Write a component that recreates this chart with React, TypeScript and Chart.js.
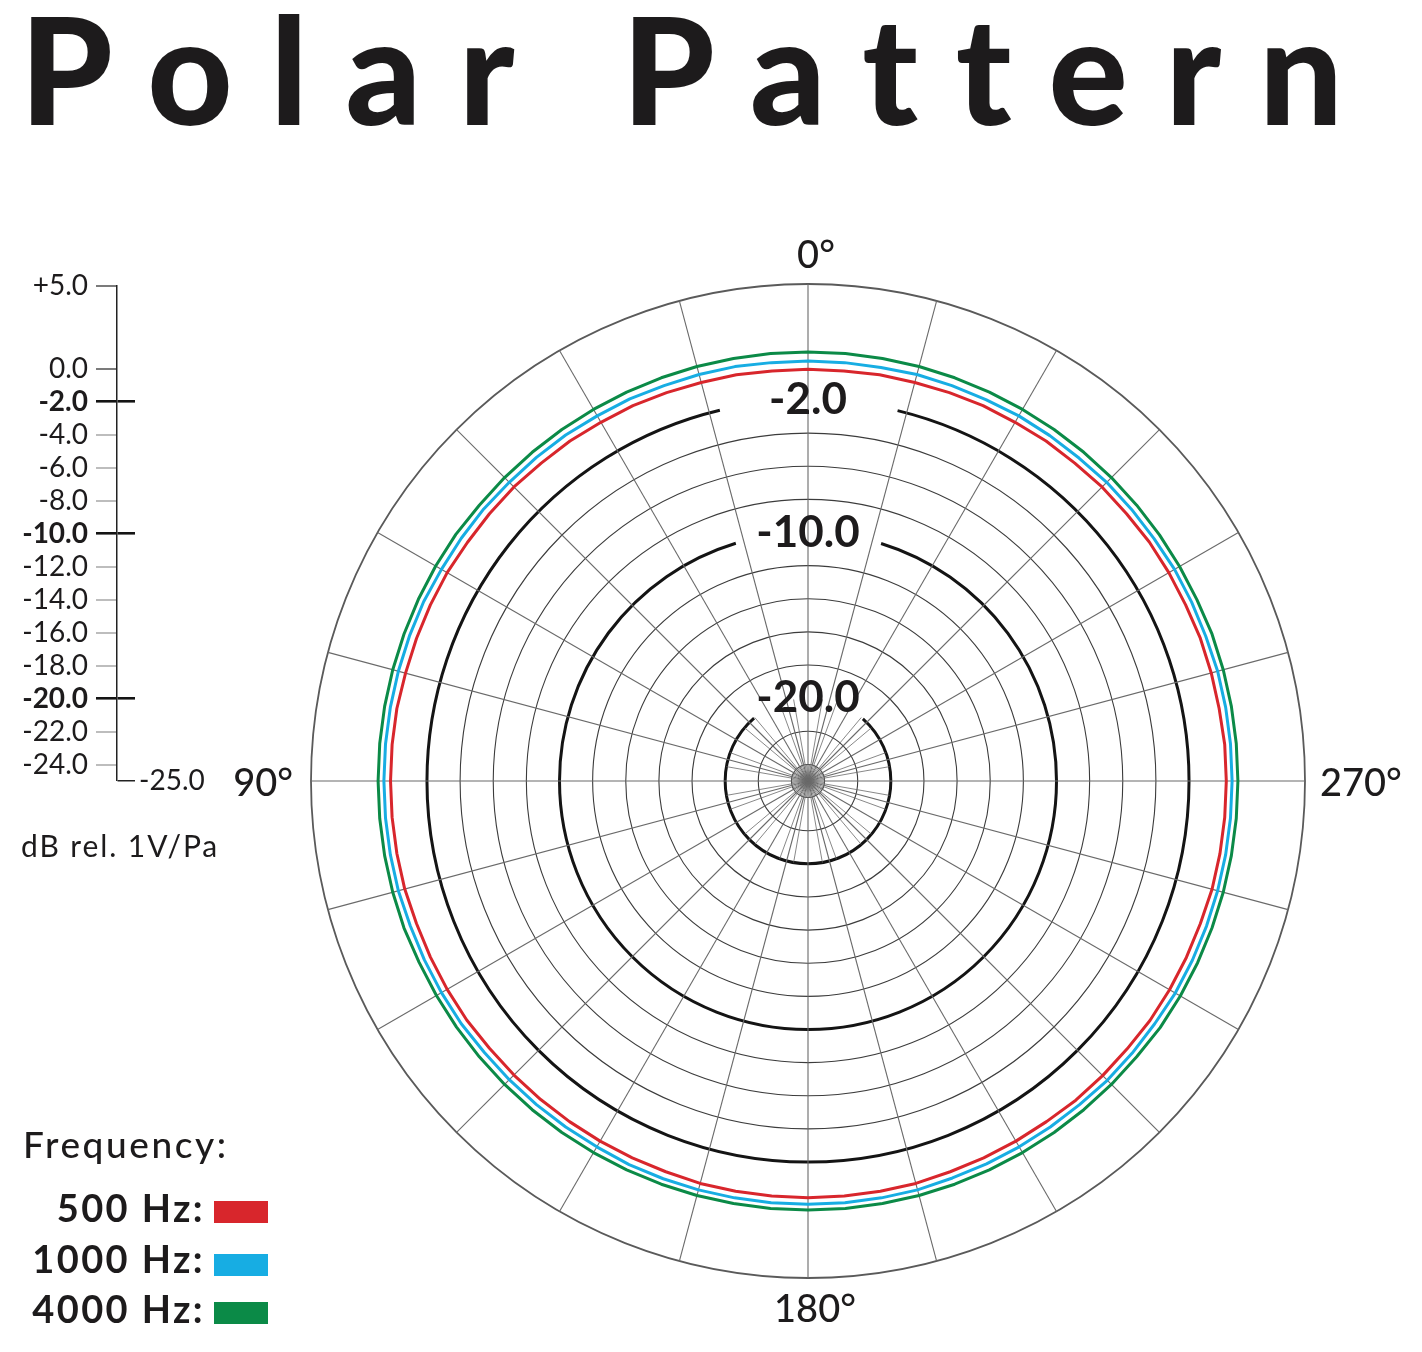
import React, { useEffect, useRef } from 'react';
import { Chart, registerables } from 'chart.js';

Chart.register(...registerables);

const FONT = 'Lato, "Open Sans", "Noto Sans", sans-serif';
const INK = '#1d1b1c';

// ---- data ----
const ANGLE_STEP = 5;
const ANGLES_DEG = Array.from({ length: 72 }, (_, k) => k * ANGLE_STEP); // 0..355 (category axis)
const SERIES_NAMES = ['500 Hz', '1000 Hz', '4000 Hz'];
const SERIES_COLORS = ['#d8262c', '#17ade3', '#0b8a47'];

// dB values at 0°, 5°, 10° ... 355° (counter-clockwise from top)
const DB_500HZ = [
  -0.15, -0.15, -0.1, -0.1, -0.05, 0.0, 0.0, 0.05, 0.05, 0.1, 0.1, 0.1, 0.15, 0.15, 0.15, 0.15, 0.2, 0.2,
  0.2, 0.2, 0.2, 0.2, 0.15, 0.15, 0.15, 0.15, 0.1, 0.1, 0.1, 0.1, 0.1, 0.1, 0.1, 0.15, 0.15, 0.15,
  0.15, 0.15, 0.15, 0.15, 0.1, 0.1, 0.1, 0.1, 0.15, 0.15, 0.15, 0.2, 0.2, 0.2, 0.2, 0.25, 0.25, 0.25,
  0.25, 0.25, 0.2, 0.2, 0.2, 0.15, 0.15, 0.15, 0.1, 0.1, 0.05, 0.05, 0.0, 0.0, -0.05, -0.1, -0.1, -0.15,
];
const DB_1000HZ = [
  0.35, 0.35, 0.4, 0.4, 0.4, 0.45, 0.45, 0.5, 0.5, 0.5, 0.55, 0.55, 0.55, 0.6, 0.6, 0.6, 0.6, 0.6,
  0.6, 0.6, 0.6, 0.6, 0.55, 0.55, 0.55, 0.55, 0.5, 0.5, 0.5, 0.5, 0.5, 0.55, 0.55, 0.55, 0.55, 0.55,
  0.55, 0.55, 0.55, 0.55, 0.5, 0.5, 0.5, 0.5, 0.5, 0.55, 0.55, 0.55, 0.6, 0.6, 0.6, 0.6, 0.6, 0.6,
  0.6, 0.6, 0.6, 0.6, 0.55, 0.55, 0.55, 0.5, 0.5, 0.5, 0.45, 0.45, 0.45, 0.4, 0.4, 0.4, 0.35, 0.35,
];
const DB_4000HZ = [
  0.9, 0.9, 0.9, 0.9, 0.9, 0.9, 0.9, 0.9, 0.9, 0.9, 0.9, 0.95, 0.95, 0.95, 0.95, 0.95, 0.95, 0.95,
  0.95, 0.95, 0.95, 0.95, 0.95, 0.9, 0.9, 0.9, 0.9, 0.9, 0.9, 0.9, 0.9, 0.9, 0.9, 0.9, 0.9, 0.9,
  0.9, 0.9, 0.9, 0.9, 0.9, 0.9, 0.9, 0.9, 0.9, 0.9, 0.9, 0.95, 0.95, 0.95, 0.95, 0.95, 0.95, 0.95,
  0.95, 0.95, 0.95, 0.95, 0.95, 0.9, 0.9, 0.9, 0.9, 0.9, 0.9, 0.9, 0.9, 0.9, 0.9, 0.9, 0.9, 0.9,
];
const SERIES_VALUES = [DB_500HZ, DB_1000HZ, DB_4000HZ];

const DB_MIN = -25;
const DB_MAX = 5;
const RING_VALUES = [-24, -22, -20, -18, -16, -14, -12, -10, -8, -6, -4, -2];
const BOLD_RINGS = [-2, -10, -20];
const RING_GAP_HALF_DEG: Record<number, number> = { [-2]: 13.5, [-10]: 17, [-20]: 41 };
const ANGLE_MARKS = [0, 90, 180, 270];
const SIDE_SCALE_TICKS = [5, 0, -2, -4, -6, -8, -10, -12, -14, -16, -18, -20, -22, -24, -25];

// ---- helpers ----
const degAtIndex = (i: number) => (360 - i * ANGLE_STEP) % 360;
const fmt1 = (v: number) => (v > 0 ? '+' : '') + v.toFixed(1);

// polar geometry on the page
const CX = 808;
const CY = 781;
const R_PX = 497;
const PAGE_W = 1422;
const PAGE_H = 1352;
const TICK_FONT_SIZE = 44;

function PolarChart() {
  const ref = useRef<HTMLCanvasElement | null>(null);
  useEffect(() => {
    const canvas = ref.current!;
    const labels = ANGLES_DEG.map((_, i) => degAtIndex(i) + '°');
    const datasets = SERIES_NAMES.map((name, s) => ({
      label: name,
      data: ANGLES_DEG.map((_, i) => SERIES_VALUES[s][degAtIndex(i) / ANGLE_STEP]),
      borderColor: SERIES_COLORS[s],
      backgroundColor: 'transparent',
      borderWidth: 3,
      pointRadius: 0,
      fill: false,
      tension: 0,
    }));
    const angleLabelPlugin = {
      id: 'angleLabels',
      afterDraw(chart: any) {
        const sc = chart.scales.r;
        const ctx = chart.ctx;
        ctx.save();
        ctx.fillStyle = INK;
        ctx.font = `500 38px ${FONT}`;
        ctx.textBaseline = 'alphabetic';
        ANGLE_MARKS.forEach((deg) => {
          const i = ((360 - deg) % 360) / ANGLE_STEP;
          const R = sc.drawingArea;
          const txt = deg + '°';
          if (deg === 0) {
            const p = sc.getPointPosition(i, R + 16);
            ctx.textAlign = 'center';
            ctx.fillText(txt, p.x + 8, p.y);
          } else if (deg === 180) {
            const p = sc.getPointPosition(i, R + 44);
            ctx.textAlign = 'center';
            ctx.fillText(txt, p.x + 7, p.y);
          } else if (deg === 90) {
            const p = sc.getPointPosition(i, R + 18);
            ctx.textAlign = 'right';
            ctx.fillText(txt, p.x, p.y + 15);
          } else {
            const p = sc.getPointPosition(i, R + 15);
            ctx.textAlign = 'left';
            ctx.fillText(txt, p.x, p.y + 15);
          }
        });
        ctx.restore();
      },
    };
    const half = TICK_FONT_SIZE / 2;
    const padL = CX - R_PX - half;
    const padT = CY - R_PX - half;
    const side = 2 * R_PX + TICK_FONT_SIZE;
    const chart = new Chart(canvas, {
      type: 'radar',
      data: { labels, datasets },
      plugins: [angleLabelPlugin],
      options: {
        responsive: false,
        animation: false,
        layout: { padding: { left: padL, top: padT, right: PAGE_W - padL - side, bottom: PAGE_H - padT - side } },
        plugins: { legend: { display: false }, tooltip: { enabled: false } },
        elements: { line: { borderJoinStyle: 'round' } },
        scales: {
          r: {
            min: DB_MIN,
            max: DB_MAX,
            startAngle: 0,
            afterBuildTicks: (s: any) => {
              s.ticks = [DB_MIN, ...RING_VALUES, DB_MAX].map((v) => ({ value: v }));
            },
            pointLabels: { display: false },
            angleLines: {
              display: true,
              color: '#6a6a6a',
              lineWidth: (c: any) => (degAtIndex(c.index) % 15 === 0 ? 1.1 : 0.8),
              borderDash: (c: any) => {
                const deg = degAtIndex(c.index);
                const sc = c.chart.scales.r;
                if (deg % 15 === 0) return [];
                const v = deg % 10 === 0 ? -20 : -24;
                return [sc.getDistanceFromCenterForValue(v), 4000];
              },
            },
            grid: {
              circular: true,
              color: (c: any) => {
                const v = c.tick ? c.tick.value : null;
                if (v === DB_MAX) return '#5a5a5a';
                if (BOLD_RINGS.includes(v)) return '#141414';
                return '#3c3c3c';
              },
              lineWidth: (c: any) => {
                const v = c.tick ? c.tick.value : null;
                if (v === DB_MAX) return 1.8;
                if (BOLD_RINGS.includes(v)) return 3;
                if (RING_VALUES.includes(v)) return 1.1;
                return 0;
              },
            },
            border: {
              dash: (c: any) => {
                const v = c.tick ? c.tick.value : null;
                if (!BOLD_RINGS.includes(v)) return [];
                const r = c.chart.scales.r.getDistanceFromCenterForValue(v);
                const g = (r * RING_GAP_HALF_DEG[v] * Math.PI) / 180;
                return [1.5 * Math.PI * r - g, 2 * g, 0.5 * Math.PI * r + 20];
              },
              dashOffset: 0,
            },
            ticks: {
              display: true,
              showLabelBackdrop: false,
              backdropPadding: 0,
              color: INK,
              font: { family: FONT, size: TICK_FONT_SIZE, weight: 'bold' },
              callback: (v: any) => (BOLD_RINGS.includes(Number(v)) ? Number(v).toFixed(1) : ''),
            },
          },
        },
      } as any,
    });
    return () => chart.destroy();
  }, []);
  return (
    <canvas
      ref={ref}
      width={PAGE_W}
      height={PAGE_H}
      style={{ position: 'absolute', left: 0, top: 0, width: PAGE_W, height: PAGE_H }}
    />
  );
}

function SideScale() {
  const ref = useRef<HTMLCanvasElement | null>(null);
  useEffect(() => {
    const canvas = ref.current!;
    const chart = new Chart(canvas, {
      type: 'line',
      data: { labels: [''], datasets: [] },
      options: {
        responsive: false,
        animation: false,
        layout: { padding: { left: 0, top: 286, right: 0, bottom: 40 } },
        plugins: { legend: { display: false }, tooltip: { enabled: false } },
        scales: {
          x: { display: false },
          y: {
            type: 'linear',
            position: 'left',
            min: DB_MIN,
            max: DB_MAX,
            afterBuildTicks: (s: any) => {
              s.ticks = SIDE_SCALE_TICKS.map((v) => ({ value: v }));
            },
            afterFit: (s: any) => {
              s.width = 117;
            },
            border: { display: true, color: '#222', width: 1.5 },
            grid: {
              drawOnChartArea: true,
              drawTicks: true,
              tickLength: 21,
              color: (c: any) => {
                const v = c.tick ? c.tick.value : null;
                if (BOLD_RINGS.includes(v)) return '#141414';
                if (v === DB_MIN) return '#222';
                return 'rgba(0,0,0,0)';
              },
              lineWidth: (c: any) => {
                const v = c.tick ? c.tick.value : null;
                if (BOLD_RINGS.includes(v)) return 2.6;
                if (v === DB_MIN) return 1.5;
                return 0;
              },
              tickColor: (c: any) => {
                const v = c.tick ? c.tick.value : null;
                if (BOLD_RINGS.includes(v)) return '#141414';
                if (v === 5 || v === 0) return '#333';
                if (v === DB_MIN) return 'rgba(0,0,0,0)';
                return '#9a9a9a';
              },
              tickWidth: (c: any) => {
                const v = c.tick ? c.tick.value : null;
                if (BOLD_RINGS.includes(v)) return 2.6;
                if (v === DB_MIN) return 0;
                return 1.3;
              },
            },
            ticks: {
              autoSkip: false,
              padding: 8,
              color: INK,
              font: (c: any) => ({
                family: FONT,
                size: 28,
                weight: c.tick && BOLD_RINGS.includes(c.tick.value) ? 'bold' : 'normal',
              }),
              callback: (v: any) => (Number(v) === DB_MIN ? '' : fmt1(Number(v))),
            },
          },
          y2: {
            type: 'linear',
            position: 'right',
            min: DB_MIN,
            max: DB_MAX,
            afterBuildTicks: (s: any) => {
              s.ticks = [{ value: DB_MIN }];
            },
            afterFit: (s: any) => {
              s.width = 80;
            },
            border: { display: false },
            grid: { display: false, drawTicks: false },
            ticks: {
              autoSkip: false,
              padding: 4,
              color: INK,
              font: { family: FONT, size: 28 },
              callback: (v: any) => fmt1(Number(v)),
            },
          },
        },
      } as any,
    });
    return () => chart.destroy();
  }, []);
  return (
    <canvas
      ref={ref}
      width={215}
      height={821}
      style={{ position: 'absolute', left: 0, top: 0, width: 215, height: 821 }}
    />
  );
}

const T = (props: { x: number; base: number; size: number; weight?: number; children: any; right?: boolean; ls?: number }) => {
  const top = props.base - 0.887 * props.size;
  const style: any = {
    position: 'absolute',
    top,
    fontFamily: FONT,
    fontSize: props.size,
    fontWeight: props.weight ?? 400,
    lineHeight: 1,
    color: INK,
    whiteSpace: 'pre',
    letterSpacing: props.ls ?? 0,
  };
  if (props.right) style.right = PAGE_W - props.x;
  else style.left = props.x;
  return <div style={style}>{props.children}</div>;
};

export default function App() {
  const legendBase = [1222, 1273, 1323];
  const swatchTop = [1201, 1254, 1302];
  return (
    <div style={{ position: 'absolute', left: 0, top: 0, width: PAGE_W, height: PAGE_H, overflow: 'hidden', background: '#fff' }}>
      <T x={20} base={125} size={148} weight={900} ls={37.6}>Polar Pattern</T>
      <SideScale />
      <PolarChart />
      <T x={21} base={857} size={30} ls={1.9}>dB rel. 1V/Pa</T>
      <T x={23} base={1158} size={37} weight={500} ls={2.6}>Frequency:</T>
      {SERIES_NAMES.map((n, i) => (
        <React.Fragment key={n}>
          <T x={205} right base={legendBase[i]} size={38} weight={700} ls={2.4}>{n + ':'}</T>
          <div
            style={{
              position: 'absolute',
              left: 214,
              top: swatchTop[i],
              width: 54,
              height: 22,
              background: SERIES_COLORS[i],
            }}
          />
        </React.Fragment>
      ))}
    </div>
  );
}
